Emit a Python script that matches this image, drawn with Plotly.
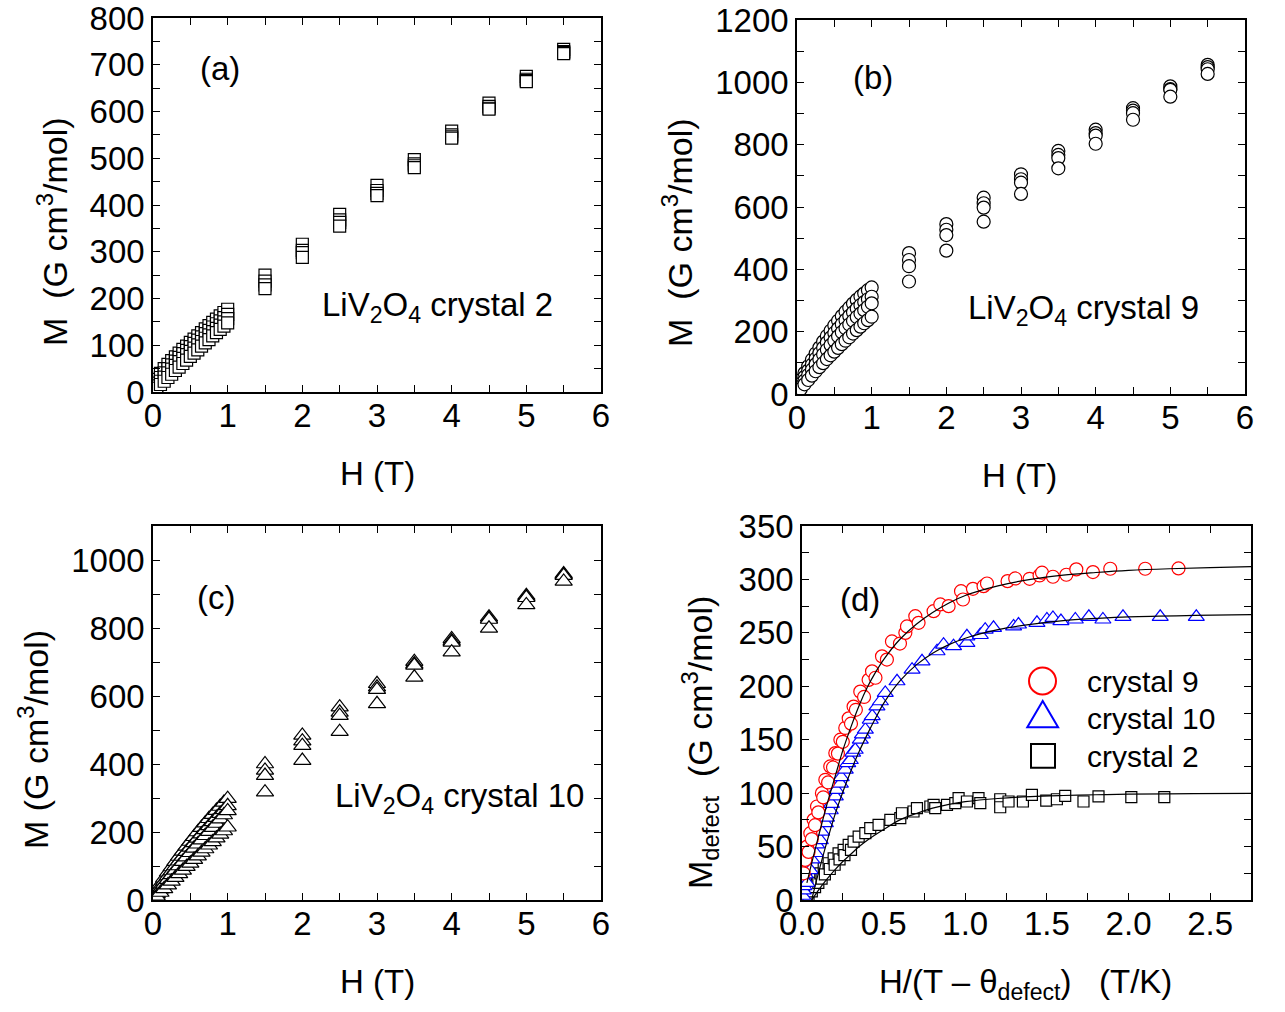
import plotly.graph_objects as go

FIG_W, FIG_H = 1285, 1012
FONT = "Liberation Sans, Arial, sans-serif"

# ---------------------------------------------------------------- data
# applied field (T): dense low-field sweep followed by the high-field points
H_FIELD = [0.01, 0.02, 0.05, 0.10, 0.15, 0.20, 0.25, 0.30, 0.35, 0.40, 0.45, 0.50,
           0.55, 0.60, 0.65, 0.70, 0.75, 0.80, 0.85, 0.90, 0.95, 1.00,
           1.5, 2.0, 2.5, 3.0, 3.5, 4.0, 4.5, 5.0, 5.5]

# crystal 2, M (G cm^3/mol), four temperatures (lowest T first)
C2_T1 = [8, 14, 27, 40, 50, 59, 67, 75, 83, 91, 98, 106, 113, 120, 127, 135, 142, 149, 156, 163, 170, 177,
         250, 316, 380, 442, 497, 558, 618, 675, 733]
C2_T2 = [5, 9, 19, 31, 41, 50, 58, 66, 74, 82, 89, 97, 104, 111, 118, 125, 132, 139, 146, 152, 159, 166,
         237, 303, 368, 431, 488, 550, 611, 669, 728]
C2_T3 = [3, 6, 13, 23, 32, 41, 49, 57, 65, 72, 80, 87, 94, 101, 108, 115, 122, 129, 136, 143, 150, 157,
         229, 298, 363, 425, 484, 546, 607, 666, 726]
C2_T4 = [2, 3, 8, 16, 23, 31, 38, 46, 53, 61, 68, 76, 83, 90, 98, 105, 112, 120, 127, 134, 141, 148,
         221, 288, 355, 420, 480, 543, 605, 664, 724]

# crystal 9
C9_T1 = [12, 20, 45, 67, 89, 110, 130, 149, 168, 186, 203, 220, 235, 250, 264, 277, 290, 302, 313, 323, 333, 342,
         452, 545, 630, 705, 780, 848, 917, 987, 1056]
C9_T2 = [8, 14, 33, 55, 75, 94, 113, 131, 148, 165, 181, 196, 210, 224, 237, 250, 262, 274, 285, 295, 304, 312,
         430, 527, 612, 689, 767, 837, 909, 978, 1049]
C9_T3 = [5, 10, 24, 43, 61, 78, 95, 111, 127, 142, 157, 171, 185, 198, 211, 223, 235, 247, 258, 269, 280, 291,
         410, 510, 598, 678, 757, 829, 901, 976, 1042]
C9_T4 = [3, 6, 16, 31, 45, 59, 73, 86, 99, 112, 124, 136, 148, 160, 171, 182, 194, 205, 216, 227, 237, 248,
         361, 460, 553, 642, 724, 803, 880, 954, 1027]

# crystal 10
C10_T1 = [6, 12, 29, 47, 64, 81, 97, 113, 128, 143, 158, 172, 186, 200, 213, 226, 239, 251, 263, 275, 287, 298,
          400, 484, 567, 636, 701, 768, 832, 895, 959]
C10_T2 = [5, 9, 22, 39, 55, 70, 85, 100, 114, 128, 142, 155, 168, 181, 194, 206, 218, 230, 242, 254, 265, 277,
          381, 467, 552, 626, 694, 762, 827, 891, 956]
C10_T3 = [3, 7, 17, 32, 46, 60, 74, 87, 100, 113, 126, 139, 152, 164, 176, 189, 201, 213, 225, 238, 250, 262,
          366, 454, 542, 619, 690, 758, 825, 889, 954]
C10_T4 = [2, 4, 11, 22, 33, 44, 55, 66, 77, 87, 98, 108, 119, 129, 140, 150, 161, 171, 182, 193, 203, 214,
          317, 410, 495, 577, 655, 729, 799, 868, 937]

# defect magnetization vs H/(T - theta_defect)
DEF9_X = [0.01, 0.02, 0.031, 0.04, 0.051, 0.06, 0.071, 0.08, 0.092, 0.10, 0.122, 0.13, 0.143, 0.16, 0.173,
          0.19, 0.204, 0.22, 0.235, 0.25, 0.265, 0.286, 0.30, 0.316, 0.33, 0.357, 0.38, 0.408, 0.429, 0.45,
          0.49, 0.52, 0.551, 0.60, 0.633, 0.643, 0.694, 0.714, 0.806, 0.847, 0.898, 0.974, 0.986, 1.047,
          1.112, 1.133, 1.259, 1.306, 1.394, 1.455, 1.47, 1.537, 1.619, 1.68, 1.782, 1.888, 2.102, 2.306]
DEF9_Y = [25, 37.5, 50, 45, 62.5, 57, 75, 70, 87.5, 82, 100, 96, 112.5, 110, 125,
          124, 137.5, 137, 150, 148, 161, 170, 165, 181, 178, 195, 190, 206, 214, 208,
          228, 225, 242, 240, 250, 256, 265.6, 259.4, 270.3, 276.6, 275, 289, 281.2, 291.2,
          293.7, 296.2, 298.4, 300.9, 300.6, 303.7, 306.3, 302.5, 304.4, 309.4, 306.9, 310, 310, 310.3]

DEF10_X = [0.004, 0.008, 0.012, 0.016, 0.02, 0.031, 0.051, 0.06, 0.082, 0.09, 0.112, 0.12, 0.143, 0.15,
           0.173, 0.18, 0.204, 0.21, 0.235, 0.24, 0.265, 0.28, 0.296, 0.31, 0.326, 0.357, 0.37, 0.388,
           0.418, 0.43, 0.459, 0.48, 0.51, 0.582, 0.674, 0.735, 0.827, 0.867, 0.928, 1.01, 1.01, 1.092,
           1.122, 1.173, 1.296, 1.326, 1.439, 1.5, 1.537, 1.586, 1.674, 1.757, 1.843, 1.966, 2.194, 2.415]
DEF10_Y = [4, 9, 13, 19, 24, 16, 28, 38, 44, 52, 56, 64, 72, 77,
           84, 90, 97, 103, 109, 115, 122, 128, 131, 138, 140.6, 150, 155, 159.4,
           168.7, 172, 181.2, 186, 193.8, 204.7, 215.6, 223.4, 232.8, 239, 237.5, 240.6, 246.8, 248,
           253, 254.7, 256, 257.8, 259.4, 262.5, 264, 261, 262.5, 265, 262.5, 265, 265, 265]

DEF2_X = [0.031, 0.04, 0.051, 0.06, 0.071, 0.08, 0.092, 0.10, 0.112, 0.12, 0.133, 0.14, 0.163, 0.17,
          0.194, 0.20, 0.224, 0.23, 0.255, 0.26, 0.286, 0.30, 0.316, 0.347, 0.388, 0.418, 0.469, 0.541,
          0.602, 0.612, 0.683, 0.704, 0.786, 0.806, 0.816, 0.888, 0.939, 0.959, 1.01, 1.081, 1.092,
          1.214, 1.214, 1.265, 1.353, 1.408, 1.496, 1.561, 1.612, 1.724, 1.816, 2.017, 2.219]
DEF2_Y = [6.3, 4, 11, 8, 15.6, 12, 20.3, 16, 25, 20, 29.7, 24, 34.4, 29,
          39, 33, 43.7, 38, 46.9, 42, 51.6, 47, 54.7, 59.4, 62.5, 67.2, 70.3, 75,
          76.6, 81.2, 82.8, 86, 87.5, 89, 86, 89, 90.6, 95.3, 92.2, 95.3, 90.6,
          94.3, 86.8, 92.2, 92.2, 98.4, 93, 94.3, 97.5, 92.2, 96.9, 96.3, 96.3]

# fitted curves through each data set
FIT9_X = [0.03, 0.06, 0.10, 0.15, 0.20, 0.25, 0.30, 0.35, 0.40, 0.45, 0.50, 0.60, 0.70, 0.80, 0.90,
          1.00, 1.20, 1.40, 1.60, 1.80, 2.00, 2.25, 2.50, 2.75]
FIT9_Y = [16, 35, 59, 88, 114, 140, 162, 182, 199, 213, 225, 244, 258, 269, 278,
          285, 294, 300, 304, 306.5, 308.5, 310, 311, 312]
FIT10_X = [0.059, 0.10, 0.15, 0.20, 0.25, 0.30, 0.35, 0.40, 0.45, 0.50, 0.60, 0.70, 0.80, 0.90,
           1.00, 1.20, 1.40, 1.60, 1.80, 2.00, 2.40, 2.75]
FIT10_Y = [0, 25, 53, 79, 101, 121, 139, 155, 170, 184, 205, 220, 231, 239,
           245, 253, 258, 261.5, 263.5, 265, 266.3, 267]
FIT2_X = [0.06, 0.10, 0.15, 0.20, 0.25, 0.30, 0.35, 0.40, 0.50, 0.60, 0.70, 0.80, 0.90,
          1.00, 1.20, 1.40, 1.60, 1.80, 2.00, 2.40, 2.75]
FIT2_Y = [0, 9, 19, 28, 36, 43, 50, 56, 66, 75, 81, 86, 89.5,
          92, 95, 96.8, 97.8, 98.5, 99, 99.5, 99.8]

LEGEND_LABELS = ["crystal 9", "crystal 10", "crystal 2"]


# ---------------------------------------------------------------- helpers
def fx(p):
    return p / FIG_W


def fy(p):
    return 1 - p / FIG_H


def axis(rng, dtick, minor_dtick, domain, anchor, fmt=None, standoff=0):
    tick = dict(ticks="inside", ticklen=7, tickwidth=1.3, tickcolor="black")
    return dict(range=rng, domain=domain, anchor=anchor, tick0=0, dtick=dtick, tickformat=fmt,
                minor=dict(tick0=0, dtick=minor_dtick, **tick), **tick,
                showline=True, linecolor="black", linewidth=1.6, mirror="ticks",
                showgrid=False, zeroline=False, fixedrange=True, automargin=False,
                ticklabeloverflow="allow", ticklabelstandoff=standoff,
                tickfont=dict(family=FONT, size=33, color="black"))


def markers(x, y, xa, ya, symbol, size, color="black"):
    return go.Scatter(x=x, y=y, xaxis=xa, yaxis=ya, mode="markers", showlegend=False,
                      marker=dict(symbol=symbol, size=size, color="white",
                                  line=dict(color=color, width=1.2)))


fig = go.Figure()

# (a)-(c): M(H) isotherms
for curve in (C2_T1, C2_T2, C2_T3, C2_T4):
    fig.add_trace(markers(H_FIELD, curve, "x", "y", "square", 12))
for curve in (C9_T1, C9_T2, C9_T3, C9_T4):
    fig.add_trace(markers(H_FIELD, curve, "x2", "y2", "circle", 13))
for curve in (C10_T1, C10_T2, C10_T3, C10_T4):
    fig.add_trace(markers(H_FIELD, curve, "x3", "y3", "triangle-up", 15))

# (d): defect magnetization with fits
fig.add_trace(markers(DEF2_X, DEF2_Y, "x4", "y4", "square", 11, "black"))
fig.add_trace(markers(DEF10_X, DEF10_Y, "x4", "y4", "triangle-up", 14, "#0000ff"))
fig.add_trace(markers(DEF9_X, DEF9_Y, "x4", "y4", "circle", 13, "#ff0000"))
for fxs, fys in ((FIT9_X, FIT9_Y), (FIT10_X, FIT10_Y), (FIT2_X, FIT2_Y)):
    fig.add_trace(go.Scatter(x=fxs, y=fys, xaxis="x4", yaxis="y4", mode="lines", showlegend=False,
                             line=dict(color="black", width=1.2, shape="spline")))

dom_left = [fx(153), fx(601)]
dom_right_b = [fx(797), fx(1245)]
dom_right_d = [fx(802), fx(1251)]
dom_top_a = [fy(392), fy(18)]
dom_top_b = [fy(394), fy(20)]
dom_bottom = [fy(900), fy(526)]

fig.update_layout(
    width=FIG_W, height=FIG_H, margin=dict(l=0, r=0, t=0, b=0),
    paper_bgcolor="white", plot_bgcolor="white", showlegend=False,
    font=dict(family=FONT, color="black"),
    xaxis=axis([0, 6], 1, 0.5, dom_left, "y", standoff=-6),
    yaxis=axis([0, 800], 100, 50, dom_top_a, "x"),
    xaxis2=axis([0, 6], 1, 0.5, dom_right_b, "y2", standoff=-6),
    yaxis2=axis([0, 1200], 200, 100, dom_top_b, "x2"),
    xaxis3=axis([0, 6], 1, 0.5, dom_left, "y3", standoff=-6),
    yaxis3=axis([0, 1100], 200, 100, dom_bottom, "x3"),
    xaxis4=axis([0, 2.75], 0.5, 0.25, dom_right_d, "y4", ".1f", standoff=-6),
    yaxis4=axis([0, 350], 50, 25, dom_bottom, "x4"),
)

ann = []


def text(px, py, s, size=33, angle=0, xanchor="center"):
    ann.append(dict(x=fx(px), y=fy(py), xref="paper", yref="paper", text=s, showarrow=False,
                    xanchor=xanchor, yanchor="middle", textangle=angle,
                    font=dict(family=FONT, size=size, color="black")))


# axis titles
text(377, 473, "H (T)")
text(1020, 475, "H (T)")
text(377, 981, "H (T)")
text(1025, 984, "H/(T \u2013 \u03b8<sub>defect</sub>)   (T/K)")
text(52, 232, "M  (G cm<sup>3</sup>/mol)", 34, -90)
text(677, 233, "M  (G cm<sup>3</sup>/mol)", 34, -90)
text(33, 740, "M (G cm<sup>3</sup>/mol)", 34, -90)
text(700, 742, "M<sub>defect</sub>  (G cm<sup>3</sup>/mol)", 34, -90)

# panel labels and sample names
text(220, 69, "(a)")
text(873, 77, "(b)")
text(216, 597, "(c)")
text(860, 599, "(d)")
text(437, 307, "LiV<sub>2</sub>O<sub>4</sub> crystal 2")
text(1083, 310, "LiV<sub>2</sub>O<sub>4</sub> crystal 9")
text(459, 798, "LiV<sub>2</sub>O<sub>4</sub> crystal 10")

# legend of panel (d)
for label, py in zip(LEGEND_LABELS, (681, 718, 756)):
    text(1085, py, label, 30, 0, "left")

shapes = [
    dict(type="circle", xref="paper", yref="paper", x0=fx(1029), x1=fx(1056), y0=fy(694.5), y1=fy(667.5),
         line=dict(color="#ff0000", width=2)),
    dict(type="path", xref="paper", yref="paper",
         path=f"M {fx(1027.3)},{fy(727.3)} L {fx(1058.1)},{fy(727.3)} L {fx(1042.7)},{fy(701)} Z",
         line=dict(color="#0000ff", width=2)),
    dict(type="rect", xref="paper", yref="paper", x0=fx(1031), x1=fx(1055), y0=fy(767.7), y1=fy(744),
         line=dict(color="black", width=2)),
]
fig.update_layout(annotations=ann, shapes=shapes)

fig.write_html("out.html")
